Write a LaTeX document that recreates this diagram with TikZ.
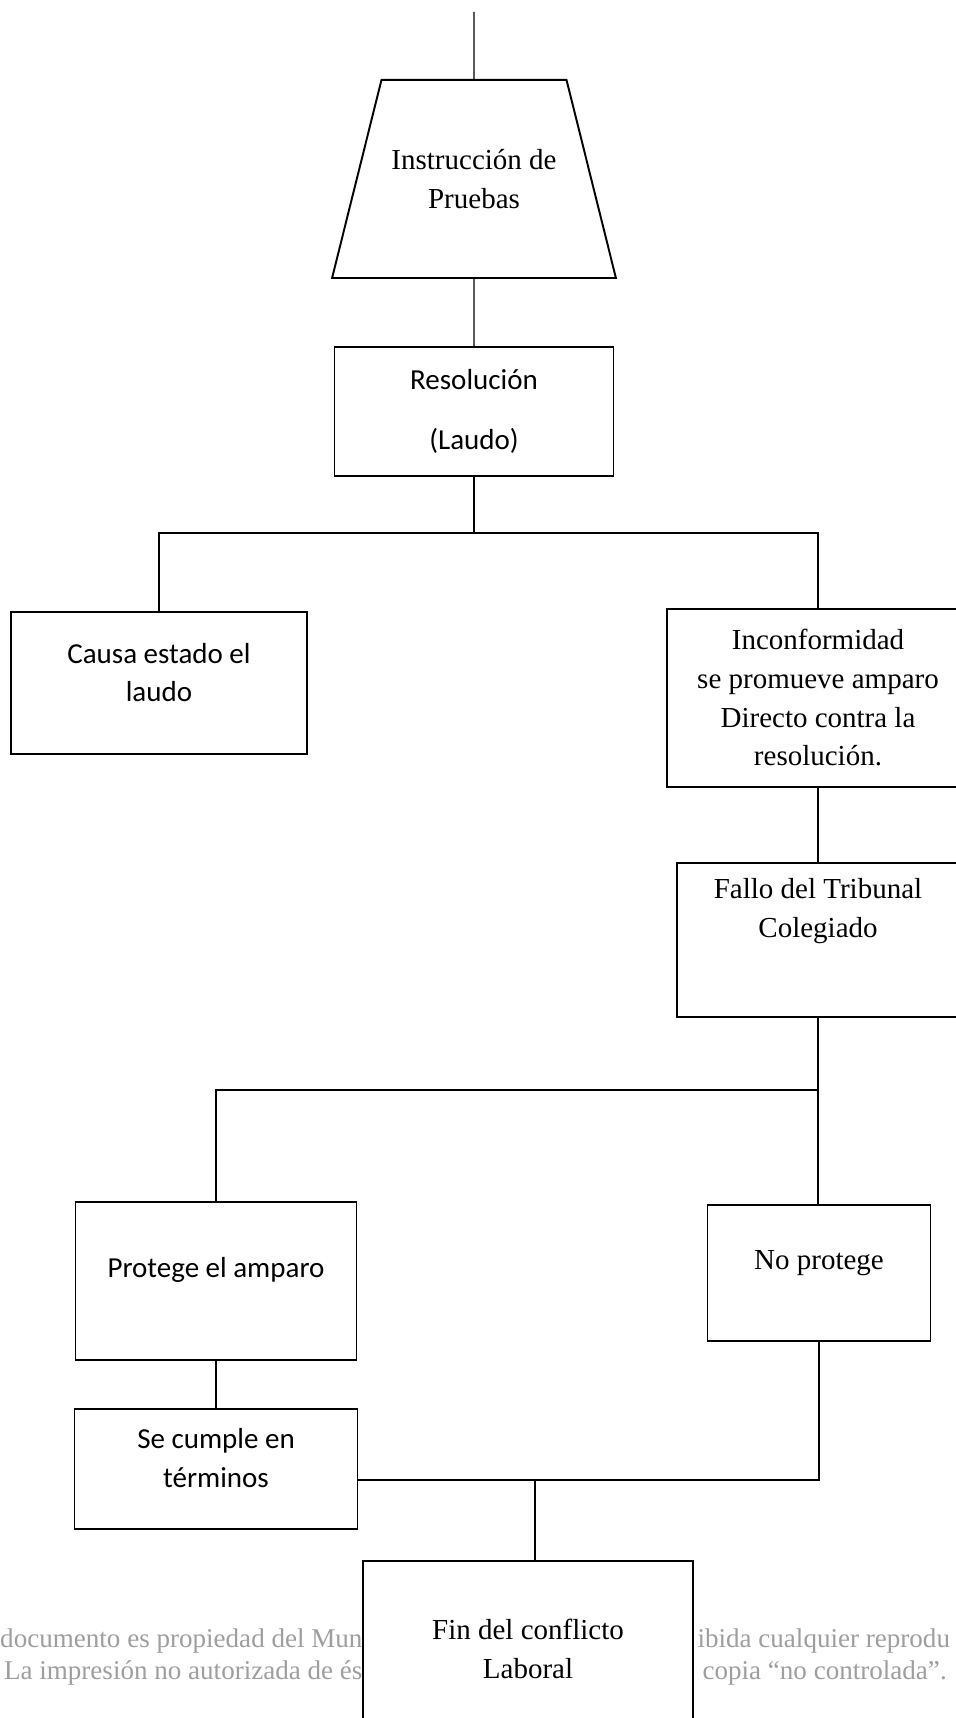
\documentclass[tikz,border=0pt]{standalone}
\usepackage{fontspec}
\setmainfont{Liberation Serif}
\newfontfamily\calibri{Carlito}
\usetikzlibrary{shapes.geometric}

\tikzset{
  caja/.style={draw, rectangle, line width=1.1pt, fill=white, align=center, inner sep=2pt},
  trap/.style={draw, trapezium, trapezium left angle=76, trapezium right angle=76,
    line width=1.1pt, fill=white, align=center, inner xsep=0.2cm, inner ysep=1.39cm},
  tr/.style={font=\fontsize{16.5}{22}\selectfont},
  cal/.style={font=\calibri\fontsize{16.5}{22}\selectfont},
  marca/.style={text=black!38, font=\fontsize{15.4}{18}\selectfont, inner sep=0pt}
}

\begin{document}
\begin{tikzpicture}[line width=0.6pt]
  \useasboundingbox (0,0) rectangle (19.12,34.36);

  % marca de agua, queda tapada por el ultimo cuadro
  \node[marca, anchor=east] (m1) at (7.26,1.54) {documento es propiedad del Mun};
  \node[marca, anchor=east] (m2) at (7.26,0.90) {La impresión no autorizada de és};
  \node[marca, anchor=west] (m3) at (13.94,1.54) {ibida cualquier reprodu};
  \node[marca, anchor=west] (m4) at (14.04,0.90) {copia ``no controlada''.};

  \coordinate (s) at (9.48,34.12);
  \node[trap, tr] (0) at (9.48,30.78) {Instrucción de\\Pruebas};
  \node[caja, cal, minimum width=5.58cm, minimum height=2.58cm] (1) at (9.48,26.13) {Resolución\\[12.5pt](Laudo)};
  \coordinate (j1) at (9.48,23.70);
  \node[caja, cal, minimum width=5.92cm, minimum height=2.84cm, text depth=0.42cm] (2) at (3.18,20.70) {Causa estado el\\laudo};
  \node[caja, tr, minimum width=6.04cm, minimum height=3.56cm] (3) at (16.36,20.40) {Inconformidad\\se promueve amparo\\Directo contra la\\resolución.};
  \node[caja, tr, minimum width=5.64cm, minimum height=3.08cm, text depth=1.28cm] (4) at (16.36,15.56) {Fallo del Tribunal\\Colegiado};
  \coordinate (j2) at (16.36,12.56);
  \node[caja, cal, minimum width=5.62cm, minimum height=3.16cm, text depth=0.56cm] (5) at (4.32,8.74) {Protege el amparo};
  \node[caja, tr, minimum width=4.46cm, minimum height=2.72cm, text depth=0.52cm] (6) at (16.38,8.90) {No protege};
  \node[caja, cal, minimum width=5.66cm, minimum height=2.40cm, text depth=0.44cm] (7) at (4.32,4.98) {Se cumple en\\términos};
  \coordinate (j3) at (10.70,4.76);
  \node[caja, tr, minimum width=6.60cm, minimum height=3.52cm] (8) at (10.56,1.38) {Fin del conflicto\\Laboral};

  \draw (s) -- (0);
  \draw (0) -- (1);
  \draw (1) -- (j1);
  \draw (j1) -| (2);
  \draw (j1) -| (3);
  \draw (3) -- (4);
  \draw (4) -- (j2);
  \draw (j2) -| (5);
  \draw (j2) -- (j2 |- 6.north);
  \draw (5) -- (7);
  \draw (6) |- (7.east |- j3);
  \draw (j3) -- (j3 |- 8.north);
\end{tikzpicture}
\end{document}
